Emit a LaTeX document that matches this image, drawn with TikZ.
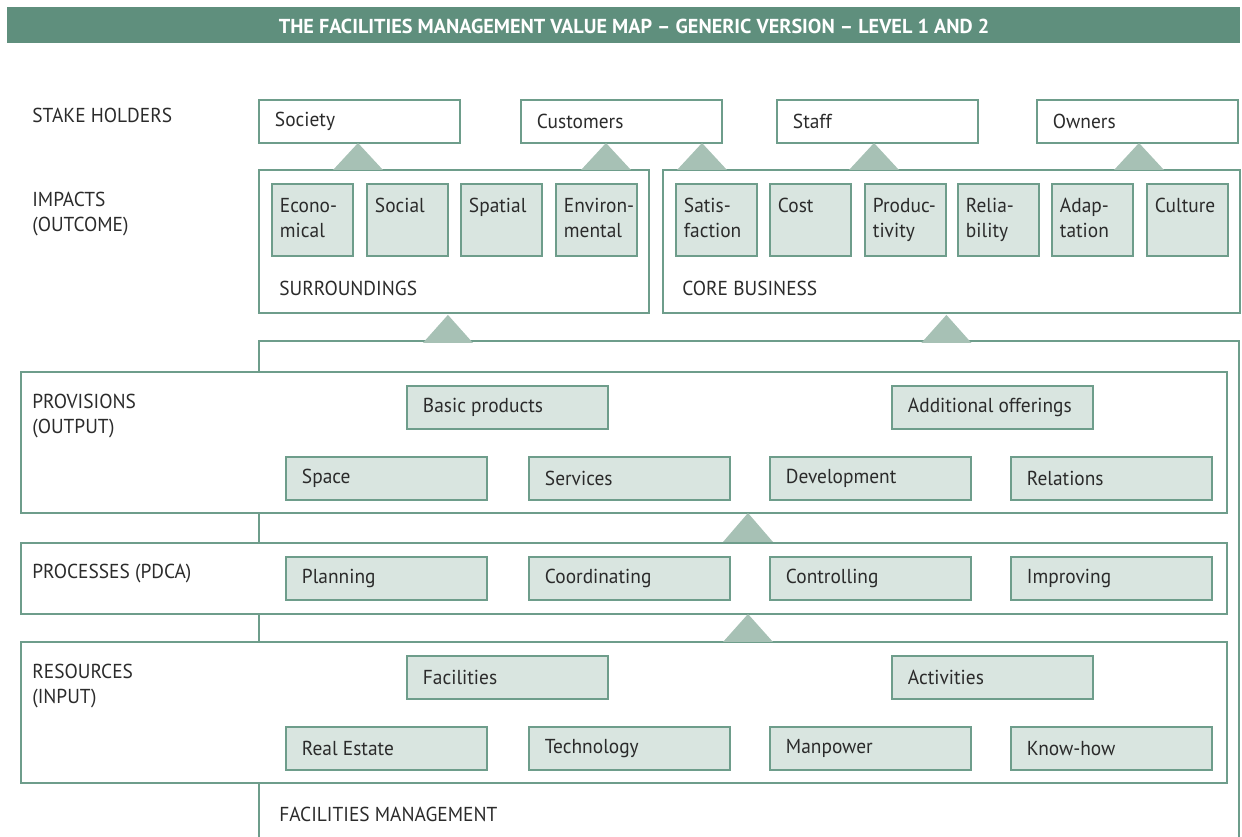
\documentclass[tikz,border=0pt]{standalone}
\usepackage{fontspec}
\setmainfont{PT Sans}[FakeStretch=0.96]
\newfontfamily\titlefont{PT Sans}[Ligatures=TeX]

\definecolor{fmtitle}{HTML}{5F8F7D}
\definecolor{fmline}{HTML}{6E9D8B}
\definecolor{fmfill}{HTML}{D9E5E0}
\definecolor{fmtri}{HTML}{A7C1B5}
\definecolor{fmdark}{HTML}{2B2B2B}

\tikzset{
  fmfont/.style={font=\fontsize{11.5}{14.2}\selectfont, text=fmdark},
  holder/.style={fmfont, draw=fmline, line width=1.1pt, fill=white, anchor=north west,
    minimum height=0.86cm, text width=3.38cm, inner xsep=0.32cm, inner ysep=0pt, align=flush left},
  item/.style={holder, fill=fmfill},
  impact/.style={fmfont, draw=fmline, line width=1.1pt, fill=fmfill, anchor=north west,
    text width=1.3cm, inner xsep=0.16cm, inner ysep=0.16cm, text height=0.42cm, text depth=0.70cm, align=flush left},
  group/.style={draw=fmline, line width=1.1pt, fill=white, anchor=north west, inner sep=0pt},
  caption/.style={fmfont, anchor=base west, inner sep=0pt, text width=6cm, align=flush left},
  tri/.style={fill=fmtri},
}

\begin{document}
\begin{tikzpicture}[x=0.02cm, y=-0.02cm]
\useasboundingbox (0,0) rectangle (1242,837);

% title bar
\fill[fmtitle] (7,7) rectangle (1240,43);
\node[font=\titlefont\fontsize{11.5}{14}\selectfont\bfseries, text=white] (title) at (634,26) {THE FACILITIES MANAGEMENT VALUE MAP – GENERIC VERSION – LEVEL 1 AND 2};

% facilities management frame
\draw[fmline, line width=1.1pt] (259,837) -- (259,341) -- (1239,341) -- (1239,837);

% stake holders
\node[caption] (lstake) at (32,123) {STAKE HOLDERS};
\node[holder] (society) at (258,99) {Society};
\node[holder] (customers) at (520,99) {Customers};
\node[holder] (staff) at (776,99) {Staff};
\node[holder] (owners) at (1036,99) {Owners};

% impacts
\node[caption] (limpacts) at (32,207) {IMPACTS\\(OUTCOME)};
\node[group, minimum width=7.8cm, minimum height=2.86cm] (surr) at (258,169) {};
\node[group, minimum width=11.54cm, minimum height=2.86cm] (core) at (662,169) {};
\node[impact] (econ) at (271,183) {Econo-\\mical};
\node[impact] (social) at (366,183) {Social};
\node[impact] (spatial) at (460,183) {Spatial};
\node[impact] (envir) at (555,183) {\mbox{Environ-}\\mental};
\node[impact] (satis) at (675,183) {Satis-\\faction};
\node[impact] (cost) at (769,183) {Cost};
\node[impact] (produc) at (864,183) {\mbox{Produc-}\\tivity};
\node[impact] (relia) at (957,183) {Relia-\\bility};
\node[impact] (adap) at (1051,183) {Adap-\\tation};
\node[impact] (culture) at (1146,183) {Culture};
\node[caption] (lsurr) at (279,296) {SURROUNDINGS};
\node[caption] (lcore) at (682,296) {CORE BUSINESS};

% provisions
\node[group, minimum width=24.12cm, minimum height=2.82cm] (provisions) at (20,371) {};
\node[caption] (lprov) at (32,409) {PROVISIONS\\(OUTPUT)};
\node[item] (basic) at (406,385) {Basic products};
\node[item] (additional) at (891,385) {Additional offerings};
\node[item] (space) at (285,456) {Space};
\node[item] (services) at (528,456) {Services};
\node[item] (develop) at (769,456) {Development};
\node[item] (relations) at (1010,456) {Relations};

% processes
\node[group, minimum width=24.12cm, minimum height=1.42cm] (processes) at (20,542) {};
\node[caption] (lproc) at (32,579) {PROCESSES (PDCA)};
\node[item] (planning) at (285,556) {Planning};
\node[item] (coord) at (528,556) {Coordinating};
\node[item] (control) at (769,556) {Controlling};
\node[item] (improv) at (1010,556) {Improving};

% resources
\node[group, minimum width=24.12cm, minimum height=2.82cm] (resources) at (20,641) {};
\node[caption] (lres) at (32,679) {RESOURCES\\(INPUT)};
\node[item] (facil) at (406,655) {Facilities};
\node[item] (activ) at (891,655) {Activities};
\node[item] (realest) at (285,726) {Real Estate};
\node[item] (techno) at (528,726) {Technology};
\node[item] (manpow) at (769,726) {Manpower};
\node[item] (knowhow) at (1010,726) {Know-how};

\node[caption] (lfm) at (279,822) {FACILITIES MANAGEMENT};

% triangles
\foreach \x in {358,606,702,874,1139}
  \fill[tri] (\x,143) -- ++(25,27) -- ++(-50,0) -- cycle;
\fill[tri] (surr.south) ++(-6,1) -- ++(25,28) -- ++(-50,0) -- cycle;
\fill[tri] (core.south) ++(-5,1) -- ++(25,28) -- ++(-50,0) -- cycle;
\fill[tri] (748,513) -- ++(25,29) -- ++(-50,0) -- cycle;
\fill[tri] (748,614) -- ++(25,28) -- ++(-50,0) -- cycle;
\end{tikzpicture}
\end{document}
